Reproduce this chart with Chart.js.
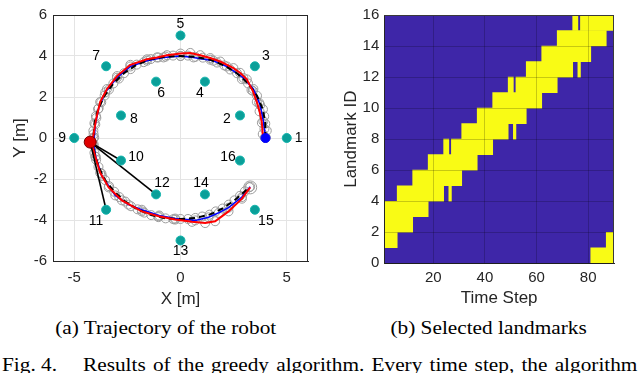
<!DOCTYPE html>
<html><head><meta charset="utf-8">
<script src="https://cdn.jsdelivr.net/npm/chart.js@4.4.1/dist/chart.umd.min.js"></script>
<style>
html,body{margin:0;padding:0;background:#fff;width:640px;height:373px;overflow:hidden;position:relative}
canvas{position:absolute;top:0}
#cA{left:0}
#cB{left:320px}
.cap{position:absolute;font-family:"Liberation Serif","Times New Roman",serif;font-size:19px;line-height:19px;color:#000;white-space:nowrap}
.cap span{display:inline-block;transform:scaleX(1.12);transform-origin:center top}
</style></head><body>
<canvas id="cA" width="320" height="310"></canvas>
<canvas id="cB" width="320" height="310"></canvas>
<div class="cap" style="left:16px;top:318px;width:300px;text-align:center"><span>(a) Trajectory of the robot</span></div>
<div class="cap" style="left:339px;top:318px;width:300px;text-align:center"><span>(b) Selected landmarks</span></div>
<div class="cap" style="left:2px;top:355px;transform:scaleX(1.12);transform-origin:left top">Fig. 4.</div>
<div class="cap" style="left:83px;top:355px;width:495px;text-align:justify;text-align-last:justify;white-space:normal;transform:scaleX(1.12);transform-origin:left top">Results of the greedy algorithm. Every time step, the algorithm</div>
<script>
// ---------- (a) trajectory data ----------
const landmarkX = [5, 2.8, 3.5, 1.15, 0, -1.15, -3.5, -2.8, -5, -2.8, -3.5, -1.15, 0, 1.15, 3.5, 2.8];
const landmarkY = [0, 1.1, 3.5, 2.75, 5, 2.75, 3.5, 1.1, 0, -1.1, -3.5, -2.75, -5, -2.75, -3.5, -1.1];
const landmarkIds = ['1','2','3','4','5','6','7','8','9','10','11','12','13','14','15','16'];

const refPath = [[4.00,0.00],[3.99,0.70],[3.88,1.40],[3.60,2.06],[3.18,2.66],[2.66,3.16],[2.06,3.54],[1.40,3.82],[0.70,3.96],[0.00,4.00],[-0.70,3.97],[-1.40,3.85],[-2.06,3.58],[-2.66,3.16],[-3.16,2.66],[-3.57,2.07],[-3.88,1.41],[-4.05,0.72],[-4.10,0.00],[-4.05,-0.72],[-3.86,-1.41],[-3.55,-2.05],[-3.12,-2.62],[-2.60,-3.10],[-2.02,-3.48],[-1.38,-3.76],[-0.70,-3.92],[0.00,-3.95],[0.70,-3.90],[1.37,-3.74],[1.98,-3.44],[2.54,-3.04],[3.03,-2.60],[3.24,-2.40]];

const truePath = [[4.01,0.03],[3.95,0.45],[3.90,0.82],[3.75,1.61],[3.43,2.39],[2.96,2.93],[2.18,3.49],[1.55,3.77],[0.61,3.93],[0.00,4.00],[-0.80,3.93],[-1.58,3.77],[-2.36,3.49],[-2.99,2.94],[-3.54,2.23],[-3.85,1.45],[-4.01,0.66],[-4.06,0.03],[-4.09,-0.30],[-3.99,-0.91],[-3.70,-1.85],[-3.07,-2.80],[-2.45,-3.25],[-1.82,-3.50],[-1.00,-3.78],[-0.25,-3.93],[0.69,-4.02],[1.32,-3.87],[1.80,-3.65],[2.26,-3.40],[2.89,-2.88],[3.28,-2.38]];

const estPath = [[3.97,0.02],[3.87,0.19],[3.83,0.74],[3.72,1.30],[3.59,1.76],[3.40,2.30],[3.12,2.86],[2.80,3.18],[2.49,3.41],[1.87,3.73],[1.40,3.90],[0.93,4.04],[0.46,4.15],[0.00,4.12],[-0.64,4.04],[-1.11,3.93],[-1.58,3.84],[-2.36,3.57],[-2.99,3.02],[-3.46,2.39],[-3.78,1.76],[-3.96,0.98],[-4.09,0.19],[-4.17,-0.28],[-4.01,-0.91],[-3.78,-1.70],[-3.38,-2.41],[-2.76,-3.04],[-1.82,-3.58],[-1.03,-3.82],[-0.25,-3.98],[0.54,-4.09],[1.16,-4.15],[1.63,-4.06],[2.26,-3.58],[2.89,-2.96],[3.28,-2.41]];

// centres of the grey uncertainty circles (read between the path samples)
const covPath = [[4.06,0.36],[3.94,1.06],[3.70,1.72],[3.34,2.34],[2.89,2.87],[2.34,3.34],[1.72,3.68],[1.05,3.92],[0.35,4.02],[-0.35,4.02],[-1.05,3.93],[-1.73,3.70],[-2.35,3.36],[-2.90,2.90],[-3.37,2.36],[-3.73,1.74],[-3.98,1.07],[-4.10,0.36],[-4.09,-0.36],[-3.97,-1.06],[-3.72,-1.73],[-3.36,-2.35],[-2.88,-2.88],[-2.33,-3.33],[-1.70,-3.64],[-1.04,-3.86],[-0.34,-3.96],[0.35,-3.95],[1.02,-3.83],[1.66,-3.58],[2.27,-3.25],[2.80,-2.82]];

const startPos = [4.0, 0.0];
const robotPos = [-4.25, -0.2];
const selectedIds = [10, 11, 12];

const xTicksA = [-5, 0, 5];
const yTicksA = [-6, -4, -2, 0, 2, 4, 6];

// label offsets (pixels) around each landmark marker
const labelDx = [12, -13, 11, -5, 0, 5, -10, 13, -12, 15, -10, 6, 0, -4, 11, -12];
const labelDy = [0, 4, -10, 12, -11, 12, -10, 4, 0, -3, 11, -11, 11, -11, 11, -3];

// ---------- (b) selected landmarks data ----------
const selRow   = [0, 1, 1, 2, 3, 4, 4, 5, 6, 7, 7, 8, 8, 9, 10, 11, 11, 12, 12, 13, 14, 15, 15];
const selStart = [81, 1, 87, 1, 1, 6, 26, 12, 18, 24, 27, 31, 51, 37, 43, 49, 52, 56, 76, 62, 68, 74, 77];
const selEnd   = [90, 6, 90, 12, 18, 24, 27, 31, 37, 26, 43, 49, 52, 56, 62, 51, 68, 74, 77, 81, 87, 76, 90];
const xTicksB = [20, 40, 60, 80];
const yTicksB = [0, 2, 4, 6, 8, 10, 12, 14, 16];

// ---------- styles ----------
const SANS = "'Liberation Sans', Arial, Helvetica, sans-serif";
const tickFont = {family: SANS, size: 15};
const titleFont = {family: SANS, size: 17};
const axisColor = '#262626';
const toPts = a => a.map(p => ({x: p[0], y: p[1]}));

const boxPlugin = {
  id: 'box',
  afterDraw(chart, args, opts) {
    const {ctx, chartArea: a} = chart;
    ctx.save();
    ctx.strokeStyle = opts.color || axisColor;
    ctx.lineWidth = 1;
    ctx.beginPath();
    const t = Math.round(a.top) + 0.5, r = Math.round(a.right) - 0.5;
    ctx.moveTo(a.left, t); ctx.lineTo(a.right, t);
    ctx.moveTo(r, a.top); ctx.lineTo(r, a.bottom);
    ctx.stroke();
    ctx.restore();
  }
};

const labelPlugin = {
  id: 'lmLabels',
  afterDatasetsDraw(chart) {
    const {ctx, scales: {x, y}} = chart;
    ctx.save();
    ctx.font = '14px ' + SANS;
    ctx.fillStyle = '#000';
    ctx.textAlign = 'center';
    ctx.textBaseline = 'middle';
    landmarkIds.forEach((id, i) => {
      ctx.fillText(id, x.getPixelForValue(landmarkX[i]) + labelDx[i], y.getPixelForValue(landmarkY[i]) + labelDy[i]);
    });
    ctx.restore();
  }
};

const areaBgPlugin = {
  id: 'areaBg',
  beforeDatasetsDraw(chart, args, opts) {
    const {ctx, chartArea: a} = chart;
    ctx.save();
    ctx.fillStyle = opts.color;
    ctx.fillRect(a.left, a.top, a.right - a.left, a.bottom - a.top);
    ctx.restore();
  }
};

// ---------- chart (a) ----------
const lastEst = estPath.length - 1;
const circleStyle = {backgroundColor: 'rgba(255,255,255,0)', borderColor: '#9c9c9c', borderWidth: 1};
const datasetsA = [
  {data: [{x: robotPos[0], y: robotPos[1]}], pointRadius: 6, backgroundColor: '#e00000', borderColor: '#7a0000', borderWidth: 1},
  {data: [{x: startPos[0], y: startPos[1]}], pointRadius: 4.5, backgroundColor: '#0000ff', borderColor: '#0000ff', borderWidth: 1},
  {data: landmarkX.map((v, i) => ({x: v, y: landmarkY[i]})), pointRadius: 4.5, backgroundColor: '#0a9f99', borderColor: '#11b3ab', borderWidth: 1},
  ...selectedIds.map(id => ({
    data: [{x: robotPos[0], y: robotPos[1]}, {x: landmarkX[id - 1], y: landmarkY[id - 1]}],
    showLine: true, borderColor: '#000', borderWidth: 1.6, pointRadius: 0
  })),
  {data: toPts(estPath), showLine: true, borderColor: '#ff0000', borderWidth: 2, pointRadius: 0, tension: 0},
  {data: toPts(refPath), showLine: true, borderColor: '#000', borderWidth: 2, borderDash: [6, 4], pointRadius: 0, tension: 0},
  {data: toPts(truePath), showLine: true, borderColor: '#0000ff', borderWidth: 1.6, pointRadius: 0, tension: 0},
  {data: toPts(estPath), pointRadius: c => c.dataIndex === lastEst ? 6.5 : 4.5, ...circleStyle},
  {data: toPts(truePath), pointRadius: 4.5, ...circleStyle},
  {data: toPts(refPath), pointRadius: 4.5, ...circleStyle},
  {data: toPts(covPath), pointRadius: 4.5, ...circleStyle}
];

new Chart(document.getElementById('cA'), {
  type: 'scatter',
  data: {datasets: datasetsA},
  options: {
    responsive: false, animation: false, events: [],
    layout: {padding: {left: 0, top: 7, right: 12, bottom: 0}},
    plugins: {legend: {display: false}, tooltip: {enabled: false}},
    scales: {
      x: {
        type: 'linear', min: -6, max: 6,
        afterBuildTicks: s => { s.ticks = xTicksA.map(v => ({value: v})); },
        afterFit: s => { s.height = 49; },
        grid: {color: '#e4e4e4', drawTicks: false},
        border: {color: axisColor},
        ticks: {font: tickFont, color: axisColor, padding: 8},
        title: {display: true, text: 'X [m]', font: titleFont, color: axisColor, padding: {top: 0, bottom: 0}}
      },
      y: {
        type: 'linear', min: -6, max: 6,
        afterBuildTicks: s => { s.ticks = yTicksA.map(v => ({value: v})); },
        afterFit: s => { s.width = 53; },
        grid: {color: '#e4e4e4', drawTicks: false},
        border: {color: axisColor},
        ticks: {font: tickFont, color: axisColor, padding: 6},
        title: {display: true, text: 'Y [m]', font: titleFont, color: axisColor, padding: {top: 10, bottom: 0}}
      }
    }
  },
  plugins: [boxPlugin, labelPlugin]
});

// ---------- chart (b) ----------
new Chart(document.getElementById('cB'), {
  type: 'bar',
  data: {
    datasets: [{
      data: selRow.map((r, i) => ({y: r + 0.5, x: [selStart[i], selEnd[i]]})),
      backgroundColor: '#f9fb15', borderWidth: 0,
      barPercentage: 1, categoryPercentage: 1
    }]
  },
  options: {
    indexAxis: 'y',
    responsive: false, animation: false, events: [],
    layout: {padding: {left: 0, top: 15, right: 26, bottom: 0}},
    plugins: {legend: {display: false}, tooltip: {enabled: false}, areaBg: {color: '#3e26a8'}, box: {color: '#3a3a3a'}},
    scales: {
      x: {
        type: 'linear', min: 1, max: 90, offset: false,
        afterBuildTicks: s => { s.ticks = xTicksB.map(v => ({value: v})); },
        afterFit: s => { s.height = 46.7; },
        grid: {color: 'rgba(0,0,0,0.2)', drawTicks: false, z: 1, offset: false},
        border: {color: axisColor, z: 1},
        ticks: {font: tickFont, color: axisColor, padding: 6, z: 1},
        title: {display: true, text: 'Time Step', font: titleFont, color: axisColor, padding: {top: 0, bottom: 1.5}}
      },
      y: {
        type: 'linear', min: 0, max: 16, offset: false,
        afterBuildTicks: s => { s.ticks = yTicksB.map(v => ({value: v})); },
        afterFit: s => { s.width = 64.3; },
        grid: {color: 'rgba(0,0,0,0.2)', drawTicks: false, z: 1, offset: false},
        border: {color: axisColor, z: 1},
        ticks: {font: tickFont, color: axisColor, padding: 5, z: 1},
        title: {display: true, text: 'Landmark ID', font: titleFont, color: axisColor, padding: {top: 21.5, bottom: 0}}
      }
    }
  },
  plugins: [areaBgPlugin, boxPlugin]
});
</script>
</body></html>
